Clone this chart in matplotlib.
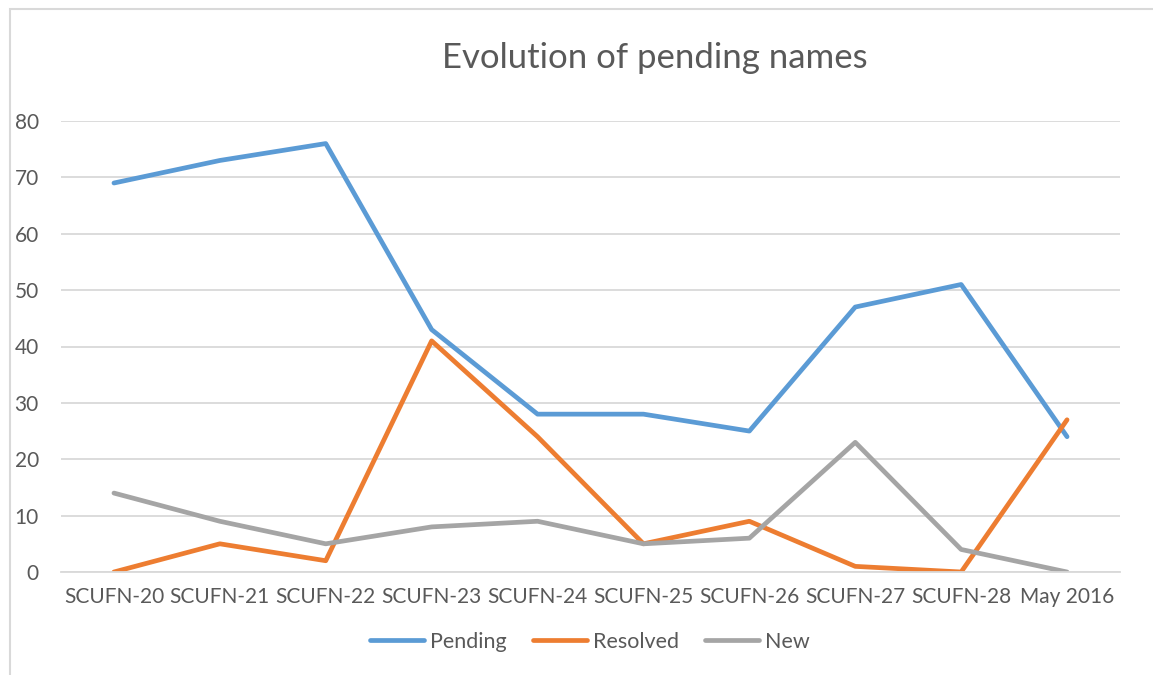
import matplotlib.pyplot as plt
from matplotlib.patches import Rectangle

categories = ["SCUFN-20", "SCUFN-21", "SCUFN-22", "SCUFN-23", "SCUFN-24",
              "SCUFN-25", "SCUFN-26", "SCUFN-27", "SCUFN-28", "May 2016"]
pending = [69, 73, 76, 43, 28, 28, 25, 47, 51, 24]
resolved = [0, 5, 2, 41, 24, 5, 9, 1, 0, 27]
new = [14, 9, 5, 8, 9, 5, 6, 23, 4, 0]

TEXT = "#595959"
GRID = "#D9D9D9"

plt.rcParams["font.family"] = ["Lato", "DejaVu Sans"]

W, H = 1153, 675
fig = plt.figure(figsize=(W / 100, H / 100), dpi=100)
ax = fig.add_axes([61 / W, 1 - 572 / H, (1120 - 61) / W, (572 - 121) / H])

x = list(range(len(categories)))
ax.plot(x, pending, color="#5B9BD5", lw=3.4, label="Pending", solid_capstyle="round")
ax.plot(x, resolved, color="#ED7D31", lw=3.4, label="Resolved", solid_capstyle="round")
ax.plot(x, new, color="#A5A5A5", lw=3.4, label="New", solid_capstyle="round")

ax.set_xlim(-0.5, len(categories) - 0.5)
ax.set_ylim(0, 80)
ax.set_yticks(range(0, 81, 10))
ax.set_xticks(x)
ax.set_xticklabels(categories)
ax.grid(axis="y", color=GRID, lw=1.3)
ax.set_axisbelow(True)
for s in ["top", "right", "left"]:
    ax.spines[s].set_visible(False)
ax.spines["bottom"].set_color(GRID)
ax.spines["bottom"].set_linewidth(1.3)
ax.tick_params(length=0, labelsize=15, colors=TEXT)
ax.tick_params(axis="x", pad=11)
ax.tick_params(axis="y", pad=16)

fig.text(655 / W, 1 - 58 / H, "Evolution of pending names", ha="center", va="center",
         fontsize=25, color=TEXT)

leg = fig.legend(loc="center", bbox_to_anchor=(590 / W, 1 - 642 / H), ncol=3,
                 frameon=False, fontsize=15.5, handlelength=2.5, columnspacing=1.2,
                 handletextpad=0.3)
for t in leg.get_texts():
    t.set_color(TEXT)

# chart area border (only the top and left edges are visible)
fig.patches.append(Rectangle((10 / W, -0.5), 2, 1.5 - 9 / H, transform=fig.transFigure,
                             fill=False, edgecolor=GRID, lw=1.5))

fig.savefig("out.png", dpi=100)
